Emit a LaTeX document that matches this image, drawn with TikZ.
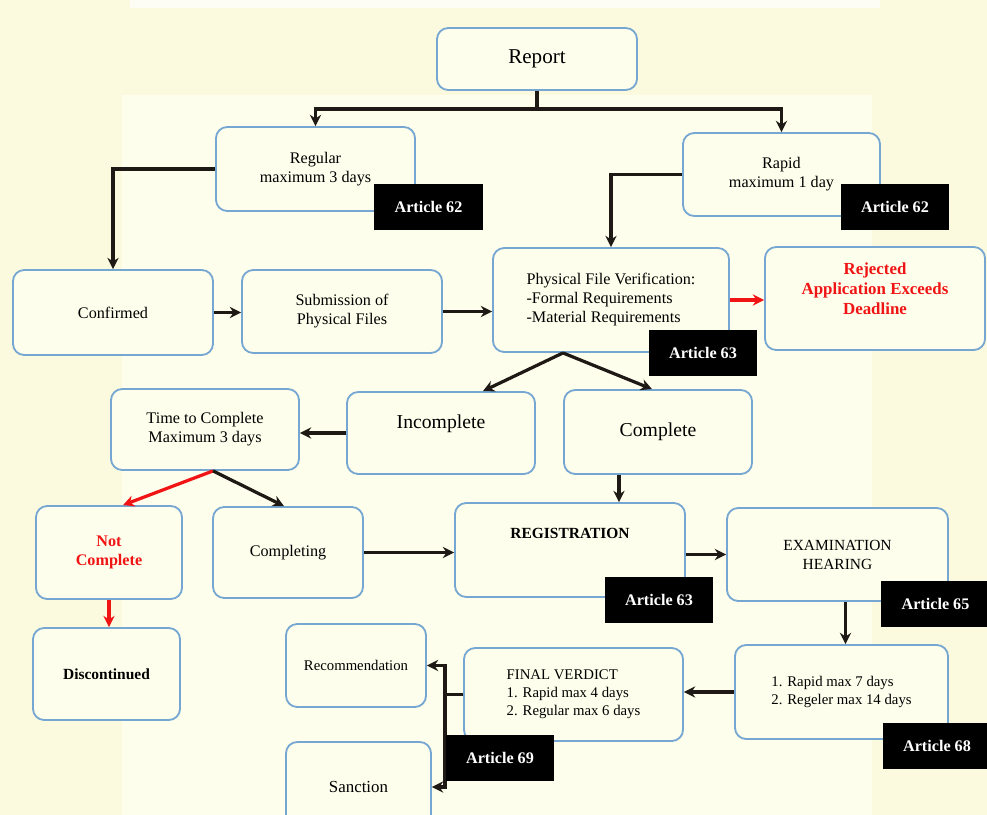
\documentclass[tikz,border=0pt]{standalone}
\usepackage{fontspec}
\setmainfont{Liberation Serif}
\usetikzlibrary{arrows.meta}
\definecolor{outerbg}{RGB}{251,250,222}
\definecolor{innerbg}{RGB}{254,254,236}
\definecolor{boxblue}{RGB}{118,166,210}
\definecolor{linegray}{RGB}{30,25,20}
\definecolor{alertred}{RGB}{240,20,20}

\begin{document}
\begin{tikzpicture}[x=0.025cm, y=-0.025cm,
    box/.style={draw=boxblue, line width=1.3pt, rounded corners=8pt, fill=innerbg, align=center, inner sep=2pt, font=\fontsize{11.5}{13.5}\selectfont},
    small/.style={font=\fontsize{10.5}{12.8}\selectfont},
    tag/.style={fill=black, text=white, font=\bfseries\fontsize{11.5}{13}\selectfont, minimum width=2.7cm, minimum height=1.15cm, inner sep=0pt},
    conn/.style={->, >={Stealth[length=8pt,width=8pt]}, line width=2.3pt, color=linegray},
    redconn/.style={conn, color=alertred}]
    \clip (0,0) rectangle (987,815);
    \fill [outerbg] (0,0) rectangle (987,815);
    \fill [innerbg] (122,95) rectangle (872,815);
    \fill [white!70!outerbg] (130,0) rectangle (880,8);

    \node [box, minimum width=5cm, minimum height=1.55cm, font=\fontsize{15}{17}\selectfont] (report) at (537,59) {Report};
    \node [box, minimum width=4.975cm, minimum height=2.1cm] (regular) at (315.5,169) {Regular\\maximum 3 days};
    \node [box, minimum width=4.925cm, minimum height=2.075cm] (rapid) at (781.5,174.5) {Rapid\\maximum 1 day};
    \node [box, minimum width=5cm, minimum height=2.125cm] (confirmed) at (113,312.5) {Confirmed};
    \node [box, minimum width=5cm, minimum height=2.075cm] (submission) at (342,311.5) {Submission of\\Physical Files};
    \node [box, minimum width=5.9cm, minimum height=2.6cm, align=left] (verif) at (611,300) {Physical File Verification:\\-Formal Requirements\\-Material Requirements};
    \node [box, minimum width=5.5cm, minimum height=2.575cm, label={[text=alertred, align=center, font=\bfseries\fontsize{12}{14.2}\selectfont, yshift=0.25cm]center:Rejected\\Application Exceeds\\Deadline}] (rejected) at (875,298.5) {};
    \node [box, minimum width=4.7cm, minimum height=2.025cm] (time) at (205,429.5) {Time to Complete\\Maximum 3 days};
    \node [box, minimum width=4.7cm, minimum height=2.05cm, label={[font=\fontsize{14}{16}\selectfont, yshift=0.22cm]center:Incomplete}] (incomplete) at (441,433) {};
    \node [box, minimum width=4.7cm, minimum height=2.1cm, font=\fontsize{14}{16}\selectfont] (complete) at (658,432) {Complete};
    \node [box, minimum width=3.65cm, minimum height=2.325cm, text=alertred, font=\bfseries\fontsize{11.5}{14}\selectfont] (notcomplete) at (109,552.5) {Not\\Complete};
    \node [box, minimum width=3.75cm, minimum height=2.275cm] (completing) at (288,552.5) {Completing};
    \node [box, minimum width=5.75cm, minimum height=2.35cm, label={[font=\bfseries\fontsize{11}{13}\selectfont, yshift=0.425cm]center:REGISTRATION}] (registration) at (570,550) {};
    \node [box, minimum width=5.525cm, minimum height=2.325cm, font=\fontsize{11}{13.5}\selectfont] (exam) at (837.5,554.5) {EXAMINATION\\HEARING};
    \node [box, minimum width=3.675cm, minimum height=2.3cm, font=\bfseries\fontsize{11}{13}\selectfont] (discontinued) at (106.5,674) {Discontinued};
    \node [box, small, minimum width=3.5cm, minimum height=2.075cm] (recommendation) at (356,665.5) {Recommendation};
    \node [box, small, minimum width=5.475cm, minimum height=2.325cm, align=left] (verdict) at (573.5,694.5) {FINAL VERDICT\\1. Rapid max 4 days\\2. Regular max 6 days};
    \node [box, small, minimum width=5.325cm, minimum height=2.35cm, align=left] (days) at (841.5,692) {1. Rapid max 7 days\\2. Regeler max 14 days};
    \node [box, minimum width=3.625cm, minimum height=2.25cm, font=\fontsize{12}{14}\selectfont] (sanction) at (358.5,787) {Sanction};

    \draw [line width=2.3pt, linegray] (report.south) -- ++(0,18) coordinate (split);
    \draw [conn] (split) -| (regular.north);
    \draw [conn] (split) -| (rapid.north);
    \draw [conn] (regular.west) -| (confirmed.north);
    \draw [conn] (rapid.west) -| (verif.north);
    \draw [conn] (confirmed.east) -- (confirmed.east -| submission.west);
    \draw [conn] (submission.east) -- (submission.east -| verif.west);
    \draw [redconn] (verif.east) -- (verif.east -| rejected.west);
    \coordinate (vsplit) at ([xshift=-1.2cm]verif.south);
    \draw [conn] (vsplit) -- ([xshift=1.05cm]incomplete.north);
    \draw [conn] (vsplit) -- ([xshift=-0.15cm]complete.north);
    \draw [conn] (incomplete.west) -- (incomplete.west -| time.east);
    \coordinate (tsplit) at ([xshift=0.2cm]time.south);
    \draw [redconn] (tsplit) -- ([xshift=0.35cm]notcomplete.north);
    \draw [conn] (tsplit) -- ([xshift=-0.1cm]completing.north);
    \draw [redconn] (notcomplete.south) -- (notcomplete.south |- discontinued.north);
    \draw [conn] (completing.east) -- (completing.east -| registration.west);
    \draw [conn] ([xshift=-0.975cm]complete.south) -- ([xshift=-0.975cm]complete.south |- registration.north);
    \draw [conn] (registration.east |- exam.west) -- (exam.west);
    \draw [conn] ([xshift=0.2cm]exam.south) -- ([xshift=0.2cm]exam.south |- days.north);
    \draw [conn] (days.west) -- (days.west -| verdict.east);
    \draw [conn] (verdict.west) -- ++(-18,0) |- (recommendation.east);
    \draw [conn] (verdict.west) -- ++(-18,0) |- (sanction.east);

    \foreach \n/\x/\y/\a in {1/428.5/207/62, 2/895/207/62, 3/703/353/63, 4/659/600/63, 5/935.5/604/65, 6/500/758/69, 7/937/746/68}
    \node [tag] (art\n) at (\x,\y) {Article \a};
\end{tikzpicture}
\end{document}
